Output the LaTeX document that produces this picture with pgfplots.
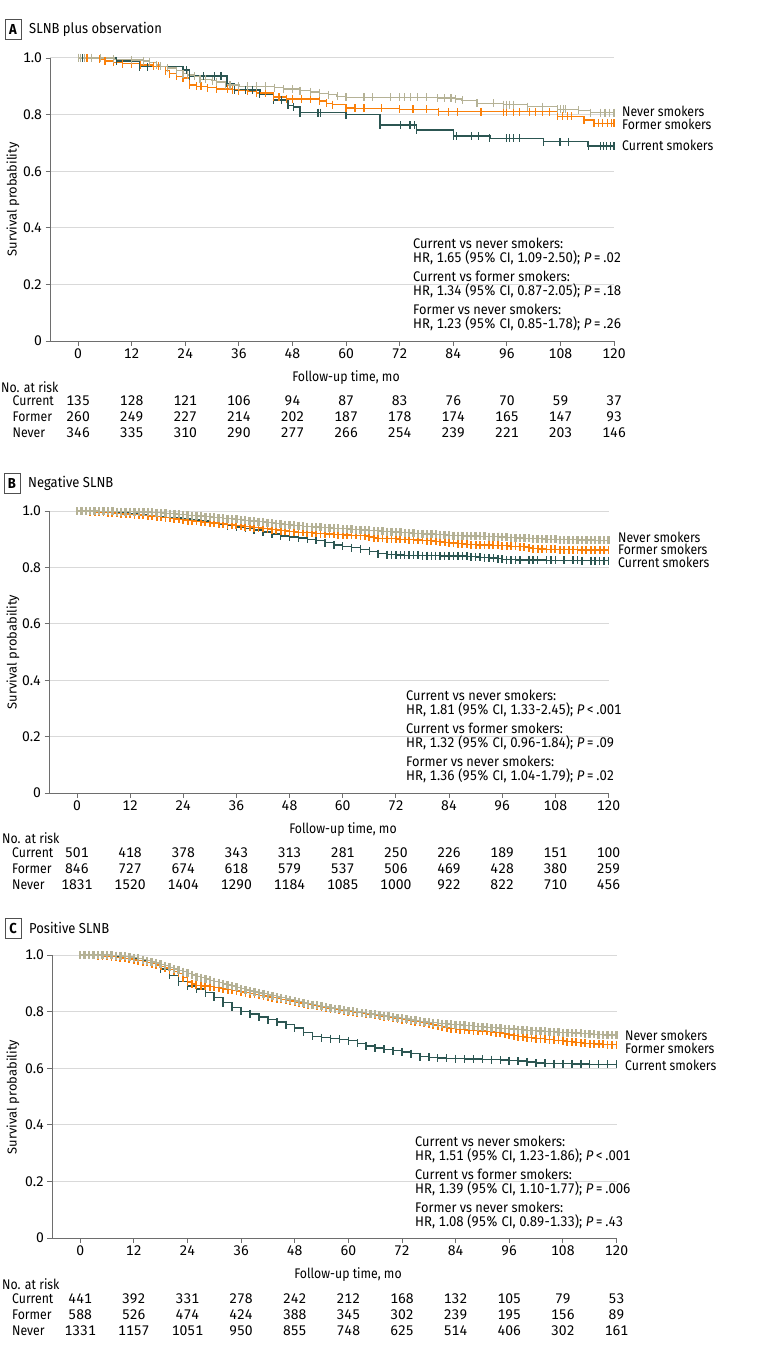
\documentclass[border=0pt]{standalone}
\usepackage{pgfplots}
\pgfplotsset{compat=1.18}
\usetikzlibrary{plotmarks}
\usepackage{fontspec}
\setmainfont{Fira Sans}[FakeStretch=0.88]
\newfontfamily\regfont{Fira Sans}
\newfontfamily\numfam{Fira Sans}[Numbers=Monospaced]
\newfontfamily\hrfam{Fira Sans}[FakeStretch=0.94, Numbers=Monospaced]
\newfontfamily\annfam{Fira Sans}[FakeStretch=0.92, Numbers=Monospaced]
\newfontfamily\titlefam{Fira Sans}[FakeStretch=0.9]
\newcommand\tf{\fontsize{14}{16}\selectfont}
\newcommand\numf{\numfam\fontsize{14}{16}\selectfont}
\newcommand\hrf{\hrfam\fontsize{14}{16}\selectfont}
\newcommand\annf{\annfam\fontsize{14}{16}\selectfont}
\newcommand\ttlf{\titlefam\fontsize{14.5}{17}\selectfont}
\newcommand\ylf{\regfont\fontsize{13}{15}\selectfont}
\definecolor{curc}{RGB}{44,86,82}
\definecolor{forc}{RGB}{250,128,10}
\definecolor{nevc}{RGB}{181,178,150}
\definecolor{axisgray}{RGB}{110,110,110}
\definecolor{gridgray}{RGB}{217,217,217}
\definecolor{boxgray}{RGB}{80,80,80}
\pgfplotsset{
  kmstyle/.style={
    scale only axis, height=283bp,
    xmin=-6.3, xmax=120, ymin=0, ymax=1,
    axis lines=left, axis line style={-, draw=axisgray, line width=0.8bp},
    xtick={0,12,...,120}, ytick={0,0.2,0.4,0.6,0.8,1.0},
    yticklabels={0,0.2,0.4,0.6,0.8,1.0},
    tick align=outside, major tick length=4.5bp,
    tick style={draw=axisgray, line width=0.8bp},
    ymajorgrids, grid style={draw=gridgray, line width=1bp},
    ticklabel style={font=\numf},
    /pgf/number format/assume math mode=true,
    clip=false, const plot,
    every axis plot/.append style={line width=1.4bp, mark=|, mark size=4bp,
      mark options={solid, line width=1.2bp}},
  },
  dense/.style={mark options={solid, line width=#1}},
}
\newcommand\risk[4]{\foreach \n [count=\i from 0] in {#4} {\node[font=\numf, inner sep=0pt] at ({#1+#2*\i},#3) {\n};}}
\begin{document}
\begin{tikzpicture}[x=1bp,y=1bp]
\path[use as bounding box] (0,0) rectangle (783,-1352);
% ================= Panel A =================
\begin{axis}[kmstyle, at={(50bp,-341bp)}, anchor=south west, width=564bp]
\addplot[color=curc] table {
t s
0 1
1 1
3 1
8.6 0.99
13.8 0.969
15.5 0.969
23.5 0.958
24.2 0.958
25 0.936
28 0.936
30.5 0.936
32 0.936
33.3 0.91
35 0.887
37.5 0.887
39 0.887
40.7 0.872
43.7 0.852
45.5 0.852
47 0.833
48.2 0.827
49.7 0.807
53.7 0.807
54.2 0.807
60 0.800
67.6 0.763
72.1 0.763
74.3 0.763
75.4 0.763
75.8 0.746
84.0 0.724
84.8 0.724
88.1 0.724
89.6 0.724
92.2 0.716
96.0 0.716
96.6 0.716
97.5 0.716
98.9 0.716
104.2 0.704
107.9 0.704
109.8 0.704
114.2 0.689
116.9 0.689
117.6 0.689
118.4 0.689
119.2 0.689
120 0.689
};
\addplot[color=forc] table {
t s
0 1
2 1
4.8 0.995
6 0.99
7.9 0.985
10 0.98
12 0.98
14 0.975
16.8 0.97
18 0.97
19.5 0.955
20.5 0.945
22 0.935
23.5 0.93
25 0.905
26.5 0.9
27.5 0.9
29 0.895
31 0.89
33.5 0.89
34.5 0.888
36 0.885
38 0.882
40 0.876
42 0.876
43.7 0.862
45 0.862
46.6 0.855
48 0.855
50 0.855
52 0.855
54 0.848
55.6 0.84
57 0.835
60 0.823
62 0.822
64 0.822
68 0.822
72 0.819
75 0.819
78 0.819
80.7 0.81
83 0.81
85 0.81
90.2 0.81
95.2 0.81
96 0.81
97.5 0.81
98.8 0.81
101 0.81
102.5 0.81
104 0.81
105.5 0.81
107.3 0.794
108.5 0.794
109.5 0.794
110.5 0.794
113.3 0.781
115.5 0.769
116.5 0.769
117.5 0.769
118.5 0.769
119.5 0.769
120 0.769
};
\addplot[color=nevc] table {
t s
0 1
0.5 1
1.5 1
3 1
5 1
8 0.995
12 0.993
14.6 0.99
16 0.985
17.5 0.975
18.5 0.97
20 0.965
22 0.955
23.5 0.945
24.5 0.94
26 0.935
27.3 0.925
28.5 0.925
30 0.92
31 0.915
33 0.905
34 0.905
36 0.9
38 0.9
40 0.9
42 0.9
44 0.895
46 0.89
48 0.89
49.7 0.885
52 0.88
54 0.875
56 0.87
58 0.865
60 0.861
64 0.861
66 0.861
70 0.861
72 0.861
73 0.861
74.5 0.861
76 0.861
78 0.861
80.5 0.858
82 0.858
83.5 0.858
84.5 0.855
86 0.85
89.3 0.84
93 0.84
95.2 0.835
96 0.835
96.6 0.835
97.5 0.835
100.6 0.828
104 0.828
107.3 0.819
108 0.819
108.6 0.819
109.2 0.819
112 0.815
114.8 0.807
117 0.807
118 0.807
119 0.807
120 0.807
};
\end{axis}
% ================= Panel B =================
\begin{axis}[kmstyle, at={(49bp,-793bp)}, anchor=south west, width=559.5bp, height=282bp]
\addplot[color=curc, dense=1.5bp] table {
t s
0 1.000
2 0.999
4 0.998
6 0.997
8 0.995
10 0.993
12 0.990
14 0.987
16 0.984
18 0.981
20 0.978
22 0.975
24 0.972
26 0.968
28 0.964
30 0.959
32 0.954
34 0.948
36 0.943
38 0.938
40 0.932
42 0.925
44 0.918
46 0.912
48 0.908
50 0.904
52 0.900
54 0.896
56 0.888
58 0.880
60 0.875
62 0.870
64 0.864
66 0.857
68 0.849
70 0.845
71 0.845
72 0.844
73 0.844
74 0.843
75 0.843
76 0.843
77 0.843
78 0.842
79 0.842
80 0.842
81 0.842
82 0.841
83 0.841
84 0.841
85 0.840
86 0.840
87 0.840
88 0.839
89 0.838
90 0.837
91 0.836
92 0.835
93 0.834
94 0.833
95 0.831
96 0.829
97 0.828
98 0.827
99 0.826
100 0.826
102 0.826
103 0.826
104 0.826
106 0.825
107 0.825
108 0.825
110 0.825
112 0.825
113 0.825
114 0.824
116 0.824
117 0.824
118 0.824
119 0.824
120 0.824
};
\addplot[color=forc, dense=1.8bp] table {
t s
0 1.000
1 1.000
2 0.999
3 0.998
4 0.997
5 0.996
6 0.995
7 0.994
8 0.993
9 0.992
10 0.990
11 0.989
12 0.988
13 0.987
14 0.986
15 0.985
16 0.983
17 0.982
18 0.980
19 0.978
20 0.976
21 0.974
22 0.972
23 0.970
24 0.968
25 0.966
26 0.964
27 0.963
28 0.961
29 0.960
30 0.958
31 0.957
32 0.955
33 0.954
34 0.952
35 0.951
36 0.949
37 0.947
38 0.945
39 0.943
40 0.941
41 0.940
42 0.938
43 0.936
44 0.934
45 0.932
46 0.930
47 0.929
48 0.927
49 0.926
50 0.924
51 0.924
52 0.923
53 0.922
54 0.921
55 0.920
56 0.919
57 0.918
58 0.917
59 0.916
60 0.915
61 0.915
62 0.914
63 0.914
64 0.913
65 0.911
66 0.908
67 0.905
68 0.903
69 0.903
70 0.902
71 0.902
72 0.901
73 0.900
74 0.899
75 0.898
76 0.897
77 0.897
78 0.896
79 0.895
80 0.894
81 0.892
82 0.890
83 0.889
84 0.887
85 0.886
86 0.884
87 0.883
88 0.882
89 0.881
90 0.880
91 0.880
92 0.879
93 0.879
94 0.878
95 0.878
96 0.877
97 0.876
98 0.875
99 0.875
100 0.874
101 0.872
102 0.869
103 0.867
104 0.865
105 0.865
106 0.864
107 0.864
108 0.864
109 0.863
110 0.863
111 0.863
112 0.863
113 0.862
114 0.862
115 0.862
116 0.862
117 0.862
118 0.862
119 0.862
120 0.862
};
\addplot[color=nevc, dense=2.4bp] table {
t s
0 1.000
1 1.000
2 1.000
3 1.000
4 1.000
5 0.999
6 0.999
7 0.999
8 0.999
9 0.998
10 0.998
11 0.998
12 0.998
13 0.997
14 0.997
15 0.996
16 0.996
17 0.995
18 0.994
19 0.993
20 0.992
21 0.991
22 0.990
23 0.988
24 0.987
25 0.985
26 0.984
27 0.983
28 0.982
29 0.980
30 0.979
31 0.977
32 0.976
33 0.974
34 0.973
35 0.971
36 0.970
37 0.968
38 0.967
39 0.965
40 0.964
41 0.962
42 0.961
43 0.959
44 0.957
45 0.955
46 0.954
47 0.952
48 0.951
49 0.949
50 0.948
51 0.946
52 0.945
53 0.944
54 0.943
55 0.942
56 0.941
57 0.940
58 0.939
59 0.938
60 0.937
61 0.936
62 0.935
63 0.934
64 0.933
65 0.932
66 0.931
67 0.930
68 0.929
69 0.928
70 0.927
71 0.926
72 0.925
73 0.924
74 0.923
75 0.922
76 0.921
77 0.920
78 0.919
79 0.918
80 0.918
81 0.917
82 0.916
83 0.915
84 0.914
85 0.913
86 0.913
87 0.912
88 0.912
89 0.911
90 0.911
91 0.910
92 0.910
93 0.909
94 0.909
95 0.908
96 0.908
97 0.907
98 0.906
99 0.905
100 0.904
101 0.903
102 0.903
103 0.902
104 0.902
105 0.901
106 0.900
107 0.899
108 0.899
109 0.898
110 0.898
111 0.898
112 0.898
113 0.897
114 0.897
115 0.897
116 0.897
117 0.896
118 0.896
119 0.896
120 0.896
};
\end{axis}
% ================= Panel C =================
\begin{axis}[kmstyle, at={(52bp,-1238bp)}, anchor=south west, width=564.5bp]
\addplot[color=curc, dense=1.5bp] table {
t s
0 1.000
2 1.000
4 1.000
6 0.999
8 0.997
10 0.994
12 0.988
14 0.980
16 0.970
18 0.950
20 0.928
22 0.906
24 0.890
26 0.880
28 0.867
30 0.850
32 0.832
34 0.815
36 0.801
38 0.792
40 0.781
42 0.772
44 0.763
46 0.754
48 0.742
50 0.727
52 0.713
54 0.708
56 0.705
58 0.702
60 0.697
62 0.688
64 0.678
66 0.671
68 0.667
70 0.662
72 0.658
74 0.652
76 0.641
78 0.638
80 0.636
82 0.635
84 0.634
86 0.633
88 0.632
90 0.631
92 0.630
94 0.629
96 0.627
98 0.625
100 0.622
102 0.619
104 0.617
106 0.616
108 0.616
110 0.615
112 0.615
114 0.614
116 0.614
118 0.614
120 0.614
};
\addplot[color=forc, dense=1.8bp] table {
t s
0 1.000
1 1.000
2 1.000
3 0.999
4 0.998
5 0.997
6 0.995
7 0.994
8 0.992
9 0.990
10 0.988
11 0.986
12 0.983
13 0.980
14 0.977
15 0.974
16 0.970
17 0.965
18 0.960
19 0.954
20 0.948
21 0.942
22 0.935
23 0.920
24 0.905
25 0.898
26 0.893
27 0.891
28 0.890
29 0.888
30 0.886
31 0.883
32 0.880
33 0.878
34 0.875
35 0.873
36 0.870
37 0.867
38 0.864
39 0.861
40 0.858
41 0.855
42 0.852
43 0.849
44 0.846
45 0.843
46 0.840
47 0.837
48 0.834
49 0.831
50 0.828
51 0.825
52 0.822
53 0.819
54 0.816
55 0.813
56 0.810
57 0.808
58 0.805
59 0.803
60 0.800
61 0.798
62 0.796
63 0.794
64 0.792
65 0.790
66 0.787
67 0.785
68 0.782
69 0.780
70 0.777
71 0.775
72 0.772
73 0.770
74 0.767
75 0.765
76 0.762
77 0.759
78 0.756
79 0.753
80 0.750
81 0.746
82 0.742
83 0.740
84 0.737
85 0.736
86 0.735
87 0.734
88 0.733
89 0.732
90 0.731
91 0.730
92 0.728
93 0.726
94 0.724
95 0.721
96 0.718
97 0.715
98 0.712
99 0.710
100 0.708
101 0.707
102 0.705
103 0.704
104 0.702
105 0.701
106 0.699
107 0.698
108 0.696
109 0.694
110 0.692
111 0.691
112 0.689
113 0.688
114 0.687
115 0.686
116 0.685
117 0.684
118 0.683
119 0.683
120 0.682
};
\addplot[color=nevc, dense=2.4bp] table {
t s
0 1.000
1 1.000
2 1.000
3 1.000
4 1.000
5 1.000
6 1.000
7 0.999
8 0.998
9 0.997
10 0.995
11 0.993
12 0.991
13 0.988
14 0.984
15 0.980
16 0.976
17 0.972
18 0.967
19 0.962
20 0.956
21 0.951
22 0.946
23 0.941
24 0.935
25 0.930
26 0.924
27 0.920
28 0.915
29 0.911
30 0.906
31 0.902
32 0.898
33 0.894
34 0.890
35 0.886
36 0.881
37 0.877
38 0.873
39 0.870
40 0.866
41 0.863
42 0.859
43 0.856
44 0.852
45 0.849
46 0.845
47 0.842
48 0.838
49 0.835
50 0.831
51 0.828
52 0.825
53 0.822
54 0.819
55 0.816
56 0.813
57 0.811
58 0.808
59 0.806
60 0.803
61 0.801
62 0.798
63 0.796
64 0.794
65 0.792
66 0.790
67 0.788
68 0.785
69 0.783
70 0.781
71 0.779
72 0.776
73 0.774
74 0.771
75 0.769
76 0.766
77 0.764
78 0.762
79 0.761
80 0.759
81 0.758
82 0.756
83 0.755
84 0.754
85 0.753
86 0.751
87 0.750
88 0.748
89 0.747
90 0.745
91 0.744
92 0.743
93 0.742
94 0.741
95 0.740
96 0.739
97 0.738
98 0.736
99 0.735
100 0.734
101 0.733
102 0.732
103 0.731
104 0.730
105 0.729
106 0.728
107 0.727
108 0.726
109 0.726
110 0.725
111 0.724
112 0.723
113 0.722
114 0.721
115 0.720
116 0.719
117 0.718
118 0.717
119 0.717
120 0.716
};
\end{axis}
% ================= Text =================
\draw[draw=boxgray, line width=0.8bp] (5,-19) rectangle (21,-39);
\node[font=\ttlf\bfseries, inner sep=0pt] at (13,-29) {A};
\node[font=\ttlf, anchor=west, inner sep=0pt] at (29,-29) {SLNB plus observation};
\draw[draw=boxgray, line width=0.8bp] (4,-473) rectangle (20,-493);
\node[font=\ttlf\bfseries, inner sep=0pt] at (12,-483) {B};
\node[font=\ttlf, anchor=west, inner sep=0pt] at (28,-483) {Negative SLNB};
\draw[draw=boxgray, line width=0.8bp] (5,-918) rectangle (21,-938);
\node[font=\ttlf\bfseries, inner sep=0pt] at (13,-928) {C};
\node[font=\ttlf, anchor=west, inner sep=0pt] at (29,-928) {Positive SLNB};
\node[font=\ylf, rotate=90, inner sep=0pt] at (13,-199.5) {Survival probability};
\node[font=\ylf, rotate=90, inner sep=0pt] at (13,-652) {Survival probability};
\node[font=\ylf, rotate=90, inner sep=0pt] at (13,-1097) {Survival probability};
\node[font=\tf, inner sep=0pt] at (346,-378) {Follow-up time, mo};
\node[font=\tf, inner sep=0pt] at (343,-830) {Follow-up time, mo};
\node[font=\tf, inner sep=0pt] at (348,-1275) {Follow-up time, mo};
\begin{scope}[every node/.style={font=\tf, anchor=west, inner sep=0pt}]
\node at (622,-111) {Never smokers};
\node at (622,-124.5) {Former smokers};
\node at (622,-145.5) {Current smokers};
\node at (618,-537.5) {Never smokers};
\node at (618,-549.5) {Former smokers};
\node at (618,-562) {Current smokers};
\node at (625,-1035) {Never smokers};
\node at (625,-1048) {Former smokers};
\node at (625,-1065) {Current smokers};
\end{scope}
\begin{scope}[every node/.style={font=\annf, anchor=west, inner sep=0pt}]
\node at (413,-243) {Current vs never smokers:};
\node[font=\hrf] at (413,-258) {HR, 1.65 (95\% CI, 1.09-2.50); \textit{P}\,=\,.02};
\node at (413,-276) {Current vs former smokers:};
\node[font=\hrf] at (413,-291) {HR, 1.34 (95\% CI, 0.87-2.05); \textit{P}\,=\,.18};
\node at (413,-309) {Former vs never smokers:};
\node[font=\hrf] at (413,-324) {HR, 1.23 (95\% CI, 0.85-1.78); \textit{P}\,=\,.26};
\node at (406,-695) {Current vs never smokers:};
\node[font=\hrf] at (406,-710) {HR, 1.81 (95\% CI, 1.33-2.45); \textit{P}\,<\,.001};
\node at (406,-728) {Current vs former smokers:};
\node[font=\hrf] at (406,-743) {HR, 1.32 (95\% CI, 0.96-1.84); \textit{P}\,=\,.09};
\node at (406,-761) {Former vs never smokers:};
\node[font=\hrf] at (406,-776) {HR, 1.36 (95\% CI, 1.04-1.79); \textit{P}\,=\,.02};
\node at (415,-1141) {Current vs never smokers:};
\node[font=\hrf] at (415,-1156) {HR, 1.51 (95\% CI, 1.23-1.86); \textit{P}\,<\,.001};
\node at (415,-1174) {Current vs former smokers:};
\node[font=\hrf] at (415,-1189) {HR, 1.39 (95\% CI, 1.10-1.77); \textit{P}\,=\,.006};
\node at (415,-1207) {Former vs never smokers:};
\node[font=\hrf] at (415,-1222) {HR, 1.08 (95\% CI, 0.89-1.33); \textit{P}\,=\,.43};
\end{scope}
\begin{scope}[every node/.style={font=\tf, anchor=west, inner sep=0pt}]
\node at (1,-387) {No. at risk};
\node at (12.5,-401) {Current};
\node at (12.5,-417) {Former};
\node at (12.5,-433) {Never};
\node at (2,-838) {No. at risk};
\node at (12,-853) {Current};
\node at (12,-869) {Former};
\node at (12,-885) {Never};
\node at (2,-1284) {No. at risk};
\node at (12,-1299) {Current};
\node at (12,-1315) {Former};
\node at (12,-1331) {Never};
\end{scope}
\risk{78.1}{53.6}{-401}{135,128,121,106,94,87,83,76,70,59,37}
\risk{78.1}{53.6}{-417}{260,249,227,214,202,187,178,174,165,147,93}
\risk{78.1}{53.6}{-433}{346,335,310,290,277,266,254,239,221,203,146}
\risk{76.9}{53.16}{-853}{501,418,378,343,313,281,250,226,189,151,100}
\risk{76.9}{53.16}{-869}{846,727,674,618,579,537,506,469,428,380,259}
\risk{76.9}{53.16}{-885}{1831,1520,1404,1290,1184,1085,1000,922,822,710,456}
\risk{80.2}{53.63}{-1299}{441,392,331,278,242,212,168,132,105,79,53}
\risk{80.2}{53.63}{-1315}{588,526,474,424,388,345,302,239,195,156,89}
\risk{80.2}{53.63}{-1331}{1331,1157,1051,950,855,748,625,514,406,302,161}
\end{tikzpicture}
\end{document}
